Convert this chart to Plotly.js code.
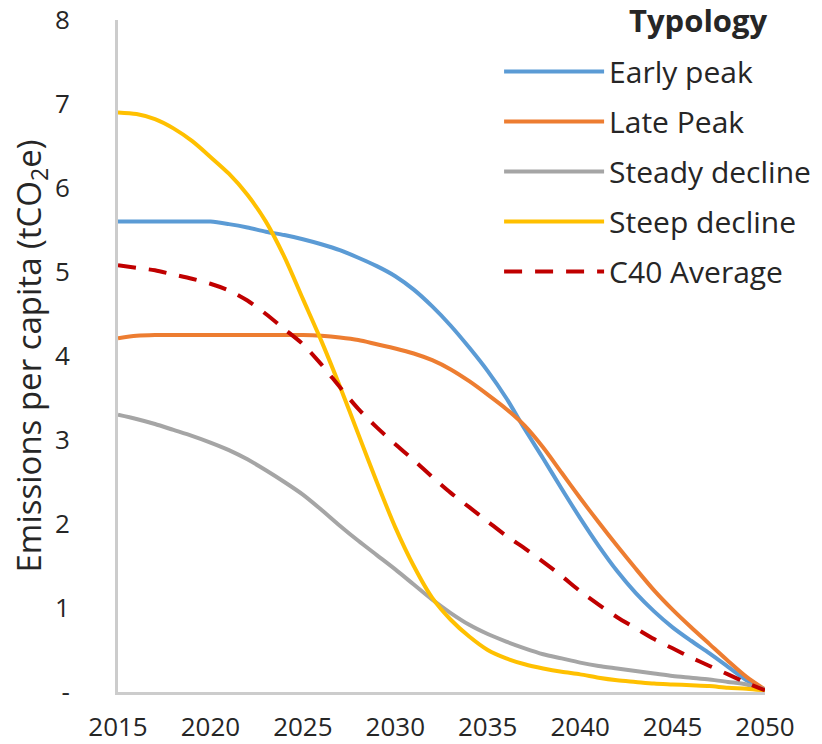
<!DOCTYPE html>
<html>
<head>
<meta charset="utf-8">
<script src="https://cdn.plot.ly/plotly-3.0.1.min.js"></script>
<style>html,body{margin:0;padding:0;background:#fff;}#chart{width:822px;height:744px;}</style>
</head>
<body>
<div id="chart"></div>
<script>
const years = [2015,2016,2017,2018,2019,2020,2021,2022,2023,2024,2025,2026,2027,2028,2029,2030,2031,2032,2033,2034,2035,2036,2037,2038,2039,2040,2041,2042,2043,2044,2045,2046,2047,2048,2049,2050];
const earlyPeak = [5.6,5.6,5.6,5.6,5.6,5.6,5.57,5.53,5.48,5.44,5.39,5.33,5.26,5.17,5.07,4.95,4.79,4.59,4.36,4.1,3.82,3.5,3.13,2.78,2.42,2.07,1.74,1.44,1.18,0.96,0.77,0.61,0.46,0.3,0.14,0.03];
const latePeak = [4.21,4.24,4.25,4.25,4.25,4.25,4.25,4.25,4.25,4.25,4.25,4.24,4.22,4.19,4.14,4.09,4.03,3.95,3.84,3.7,3.54,3.37,3.17,2.91,2.61,2.31,2.02,1.74,1.47,1.21,0.98,0.77,0.57,0.37,0.18,0.03];
const steadyDecline = [3.3,3.25,3.19,3.12,3.05,2.97,2.88,2.77,2.64,2.5,2.35,2.17,1.98,1.8,1.63,1.46,1.28,1.1,0.94,0.8,0.69,0.6,0.52,0.45,0.4,0.35,0.31,0.28,0.25,0.22,0.19,0.17,0.15,0.12,0.09,0.03];
const steepDecline = [6.9,6.88,6.82,6.71,6.56,6.37,6.17,5.92,5.6,5.18,4.68,4.18,3.64,3.07,2.5,1.96,1.5,1.12,0.86,0.66,0.5,0.4,0.33,0.28,0.24,0.21,0.17,0.14,0.12,0.1,0.09,0.08,0.07,0.05,0.04,0.02];
const c40Average = [5.08,5.05,5.02,4.97,4.92,4.86,4.78,4.66,4.5,4.32,4.14,3.9,3.63,3.37,3.15,2.95,2.76,2.56,2.37,2.2,2.03,1.86,1.71,1.55,1.38,1.2,1.04,0.89,0.76,0.63,0.52,0.41,0.31,0.21,0.11,0.02];

const seriesNames = ['Early peak','Late Peak','Steady decline','Steep decline','C40 Average'];
const yTickVals = [0,1,2,3,4,5,6,7,8];
const yTickText = ['-','1','2','3','4','5','6','7','8'];
const xTickVals = [2015,2020,2025,2030,2035,2040,2045,2050];

const FONT = '"Open Sans", "Noto Sans", sans-serif';
const seriesData = [earlyPeak, latePeak, steadyDecline, steepDecline, c40Average];
const colors = ['#5B9BD5','#ED7D31','#A5A5A5','#FFC000','#C00000'];

const traces = seriesData.map((ys, i) => ({
  x: years, y: ys, name: seriesNames[i], type: 'scatter', mode: 'lines',
  legendgroup: 'g' + i,
  line: {color: colors[i], width: 4, shape: 'spline', smoothing: 0.8, dash: i === 4 ? '18px,13px' : 'solid'},
  hoverinfo: 'skip'
}));

const layout = {
  width: 822, height: 744,
  margin: {l: 118, r: 57, t: 20, b: 52, autoexpand: false},
  paper_bgcolor: '#fff', plot_bgcolor: '#fff',
  font: {family: FONT, size: 26, color: '#262626'},
  showlegend: true,
  legend: {
    x: 0.589, y: 0.962, xanchor: 'left', yanchor: 'top',
    bgcolor: 'rgba(255,255,255,0)',
    font: {family: FONT, size: 30, color: '#262626'},
    itemwidth: 100, tracegroupgap: 8,
    traceorder: 'grouped'
  },
  xaxis: {
    range: [2015, 2050], tickvals: xTickVals, ticktext: xTickVals.map(String),
    showgrid: false, zeroline: false, showline: true, linecolor: '#CCCCCC', linewidth: 3,
    ticks: '', ticklabelstandoff: 10,
    tickfont: {family: FONT, size: 26, color: '#262626'}
  },
  yaxis: {
    range: [0, 8], tickvals: yTickVals, ticktext: yTickText,
    showgrid: false, zeroline: false, showline: true, linecolor: '#CCCCCC', linewidth: 3,
    ticks: '', ticklabelstandoff: 40,
    tickfont: {family: FONT, size: 26, color: '#262626'},
    title: {text: 'Emissions per capita (tCO<sub>2</sub>e)', font: {family: FONT, size: 33, color: '#262626'}, standoff: 4}
  },
  annotations: [{
    text: '<b>Typology</b>', xref: 'paper', yref: 'paper', x: 0.897, y: 1.0,
    xanchor: 'center', yanchor: 'middle', showarrow: false,
    font: {family: FONT, size: 31, color: '#262626'}
  }]
};

Plotly.newPlot('chart', traces, layout, {staticPlot: true, displayModeBar: false});
</script>
</body>
</html>
